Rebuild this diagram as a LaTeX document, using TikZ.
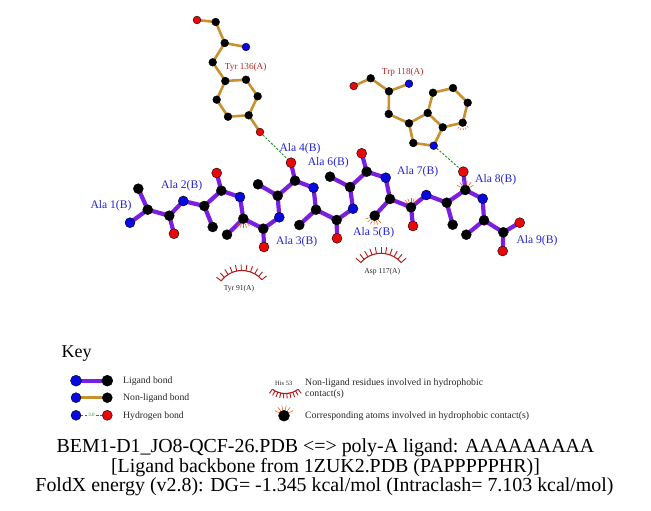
\documentclass[tikz,border=0pt]{standalone}
\usepackage{fontspec}
\setmainfont{Liberation Serif}
\usetikzlibrary{backgrounds}
\definecolor{ligc}{HTML}{7A1FE0}
\definecolor{nonc}{HTML}{C8902F}
\definecolor{lblue}{HTML}{2222CC}
\definecolor{lred}{HTML}{B52A2A}
\definecolor{lash}{HTML}{B01C1C}
\definecolor{atomb}{HTML}{0808E0}
\definecolor{atomr}{HTML}{E80808}
\definecolor{hbc}{HTML}{1F8A1F}
\tikzset{
 x=1pt,y=-1pt,
 katom/.style={circle,draw=black,line width=.4pt,inner sep=0,minimum size=#1,fill=black},
 batom/.style={circle,draw=black,line width=.4pt,inner sep=0,minimum size=#1,fill=atomb},
 ratom/.style={circle,draw=black,line width=.4pt,inner sep=0,minimum size=#1,fill=atomr},
 ligbond/.style={draw=ligc,line width=4.2pt},
 nonbond/.style={draw=nonc,line width=2.6pt},
 hbond/.style={draw=hbc,line width=.9pt,dash pattern=on 2.2pt off 1.6pt},
 alab/.style={text=lblue,font=\fontsize{11.6}{12}\selectfont,inner sep=0,yshift=-1.8pt},
 reslab/.style={text=lred,font=\fontsize{9.2}{10}\selectfont,inner sep=0,yshift=-1.2pt},
 hylab/.style={text=black!85,font=\fontsize{7.6}{9}\selectfont,inner sep=0,yshift=-1pt},
 keytxt/.style={text=black!85,font=\fontsize{9.7}{12}\selectfont,inner sep=0,anchor=west,yshift=-1pt},
 title/.style={text=black,font=\fontsize{19.9}{21}\selectfont,inner sep=0,yshift=-1.5pt},
 lashline/.style={draw=lash,line width=1.1pt},
 tiny lash/.style={draw=orange!60!red,line width=.5pt},
}
% centre x, centre y, radius, spoke, from angle, to angle, count-1
\newcommand{\eyelash}[7]{%
 \draw[lashline] ({#1+#3*cos(#5)},{#2-#3*sin(#5)}) arc[start angle={-(#5)},end angle={-(#6)},radius=#3];
 \foreach \k in {0,...,#7}{
  \pgfmathsetmacro{\ang}{#5+(#6-#5)*\k/#7}
  \draw[lashline,line width=.9pt] ({#1+#3*cos(\ang)},{#2-#3*sin(\ang)}) -- ({#1+(#3+#4)*cos(\ang)},{#2-(#3+#4)*sin(\ang)});
 }}
\newcommand{\tinylash}[6]{%
 \foreach \k in {0,...,#6}{
  \pgfmathsetmacro{\ang}{#4+(#5-#4)*\k/#6}
  \draw[tiny lash] ({#1+5.5*cos(\ang)},{#2-5.5*sin(\ang)}) -- ({#1+#3*cos(\ang)},{#2-#3*sin(\ang)});
 }}
\begin{document}
\begin{tikzpicture}
\useasboundingbox (0,0) rectangle (651,511);
% ligand
\foreach \n/\st/\px/\py in {
 N1/batom/130/222.7, CA1/katom/147.7/209.7, CB1/katom/138.3/188.7, C1/katom/169.3/215.7, O1/ratom/174/233.7,
 N2/batom/183.3/201, CA2/katom/204.3/206, CB2/katom/212.7/227, C2/katom/221.3/190.7, O2/ratom/216.7/173,
 N3/batom/240/197, CA3/katom/243.3/218.7, CB3/katom/227/234.7, C3/katom/263.3/228.7, O3/ratom/264/247,
 N4/batom/279.3/217.3, CA4/katom/277.7/195.7, CB4/katom/258/184.3, C4/katom/295/180.7, O4/ratom/291/162.7,
 N5/batom/313.5/187.7, CA5/katom/316/209.7, CB5/katom/299.3/225, C5/katom/336.7/220, O5/ratom/337/238.3,
 N6/batom/353/208.7, CA6/katom/350/187, CB6/katom/330/176.7, C6/katom/366.7/171.7, O6/ratom/361.7/153.3,
 N7/batom/385.7/177.7, CA7/katom/390/199, CB7/katom/374.7/215.7, C7/katom/411/207.3, O7/ratom/413/226,
 N8/batom/426.3/195, CA8/katom/446.7/202.7, CB8/katom/452.7/224.7, C8/katom/465.3/190, O8/ratom/463.3/171.7,
 N9/batom/482.7/198.7, CA9/katom/484/220.3, CB9/katom/466.3/234.7, C9/katom/503.3/232.3, OA/ratom/519.7/222.7, OB/ratom/502.7/251}
 {\node[\st=10pt] (\n) at (\px,\py) {};}
% Tyr 136 and Trp 118
\foreach \n/\st/\px/\py in {
 yO/ratom/197/20, yC/katom/215.7/22, yCA/katom/224.7/43, yN/batom/246/47, yCB/katom/212.7/62.3, yCG/katom/225.3/81,
 yD1/katom/246/79.7, yE1/katom/257.7/96.3, yZ/katom/248.7/115.3, yE2/katom/228/116.7, yD2/katom/216.7/99.7, yOH/ratom/260/132,
 wO/ratom/353.7/86, wC/katom/370.7/78.3, wCA/katom/389/91.3, wN/batom/409/83.7, wCB/katom/388.7/114, wCG/katom/409/123.3,
 wD1/katom/413.3/143, wE1/batom/433.7/145.7, wE2/katom/442.7/127.3, wD2/katom/427.7/113, wE3/katom/433/92.7, wZ3/katom/453/88,
 wH2/katom/467.7/102.7, wZ2/katom/462.7/122.7}
 {\node[\st=7.8pt] (\n) at (\px,\py) {};}
\begin{scope}[on background layer]
\foreach \a/\b in {N1/CA1,CA1/CB1,CA1/C1,C1/O1,C1/N2,N2/CA2,CA2/CB2,CA2/C2,C2/O2,C2/N3,N3/CA3,CA3/CB3,CA3/C3,C3/O3,C3/N4,N4/CA4,CA4/CB4,CA4/C4,C4/O4,C4/N5,N5/CA5,CA5/CB5,CA5/C5,C5/O5,C5/N6,N6/CA6,CA6/CB6,CA6/C6,C6/O6,C6/N7,N7/CA7,CA7/CB7,CA7/C7,C7/O7,C7/N8,N8/CA8,CA8/CB8,CA8/C8,C8/O8,C8/N9,N9/CA9,CA9/CB9,CA9/C9,C9/OA,C9/OB}
 \draw[ligbond] (\a.center) -- (\b.center);
\foreach \a/\b in {yO/yC,yC/yCA,yCA/yN,yCA/yCB,yCB/yCG,yCG/yD1,yD1/yE1,yE1/yZ,yZ/yE2,yE2/yD2,yD2/yCG,yZ/yOH,
 wO/wC,wC/wCA,wCA/wN,wCA/wCB,wCB/wCG,wCG/wD1,wD1/wE1,wE1/wE2,wE2/wD2,wD2/wCG,wD2/wE3,wE3/wZ3,wZ3/wH2,wH2/wZ2,wZ2/wE2}
 \draw[nonbond] (\a.center) -- (\b.center);
\end{scope}
\draw[hbond] (yOH) -- (O4);
\draw[hbond] (wE1) -- (O8);
% labels
\node[alab] (l1) at (111,204) {Ala 1(B)};
\node[alab] (l2) at (181.7,184) {Ala 2(B)};
\node[alab] (l3) at (296.7,240) {Ala 3(B)};
\node[alab] (l4) at (300,147.3) {Ala 4(B)};
\node[alab] (l5) at (373.7,231) {Ala 5(B)};
\node[alab] (l6) at (328.3,161.3) {Ala 6(B)};
\node[alab] (l7) at (417.7,169.7) {Ala 7(B)};
\node[alab] (l8) at (495.7,177.7) {Ala 8(B)};
\node[alab] (l9) at (537,239.3) {Ala 9(B)};
\node[reslab] (ry) at (245.7,66.3) {Tyr 136(A)};
\node[reslab] (rw) at (402.7,71) {Trp 118(A)};
\node[hylab] (h1) at (239,287.7) {Tyr 91(A)};
\node[hylab] (h2) at (382.3,271) {Asp 117(A)};
% eyelashes
\eyelash{242}{296.5}{26}{6}{143}{40}{10}
\eyelash{381}{280}{26.7}{6.5}{139}{41}{10}
\tinylash{243.3}{218.7}{9.5}{310}{230}{4}
\tinylash{374.7}{215.7}{9.5}{310}{200}{5}
\tinylash{411}{207.3}{9.5}{130}{50}{4}
\tinylash{465.3}{190}{9.5}{150}{30}{5}
\tinylash{462.7}{122.7}{7.5}{320}{230}{4}
% key
\node[inner sep=0,anchor=west,font=\fontsize{18}{20}\selectfont,yshift=-2pt] (key) at (61.5,352) {Key};
\node[batom=11pt] (k1a) at (76,380.7) {};
\node[katom=11pt] (k1b) at (107.3,380.7) {};
\node[batom=10pt] (k2a) at (76,397.7) {};
\node[katom=10pt] (k2b) at (107.3,397.7) {};
\node[batom=10pt] (k3a) at (76,415.3) {};
\node[ratom=10pt] (k3b) at (107.3,415.3) {};
\begin{scope}[on background layer]
\draw[ligbond] (k1a.center) -- (k1b.center);
\draw[nonbond] (k2a.center) -- (k2b.center);
\end{scope}
\draw[hbond] (k3a) -- (k3b);
\node[fill=white,inner sep=.5pt,text=hbc,font=\fontsize{5}{6}\selectfont] (k3t) at (91.5,415.3) {3.0};
\node[keytxt] (t1) at (123,380) {Ligand bond};
\node[keytxt] (t2) at (123,397.5) {Non-ligand bond};
\node[keytxt] (t3) at (123,415) {Hydrogen bond};
\node[hylab,font=\fontsize{6.5}{8}\selectfont] (his) at (283.7,382.3) {His 53};
\eyelash{285.3}{371.5}{22}{5}{-126}{-54}{9}
\node[katom=11pt] (k5) at (284,415.7) {};
\tinylash{284}{415.7}{10.5}{150}{30}{5}
\node[keytxt,font=\fontsize{9.8}{12}\selectfont] (t4) at (305,382) {Non-ligand residues involved in hydrophobic};
\node[keytxt,font=\fontsize{9.8}{12}\selectfont] (t5) at (305,393.5) {contact(s)};
\node[keytxt,font=\fontsize{9.8}{12}\selectfont] (t6) at (305,415) {Corresponding atoms involved in hydrophobic contact(s)};
% title
\node[title] (a1) at (325.5,446) {BEM1-D1\_JO8-QCF-26.PDB <=> poly-A ligand: AAAAAAAAA};
\node[title] (a2) at (325.5,466) {[Ligand backbone from 1ZUK2.PDB (PAPPPPPHR)]};
\node[title] (a3) at (324.5,485.5) {FoldX energy (v2.8): DG= -1.345 kcal/mol (Intraclash= 7.103 kcal/mol)};
\end{tikzpicture}
\end{document}
